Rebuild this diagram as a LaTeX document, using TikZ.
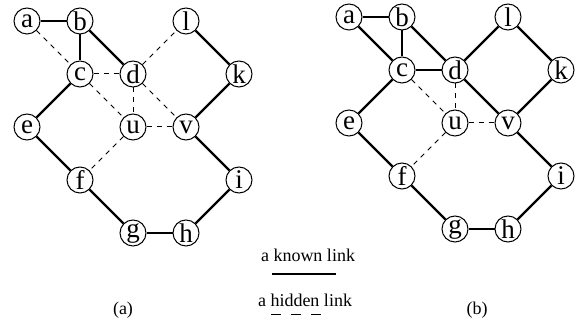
\documentclass[tikz,border=0pt]{standalone}
\usepackage{fontspec}
\setmainfont{Liberation Serif}
\usetikzlibrary{positioning}
\tikzset{router node/.style={circle,draw,line width=0.5pt,minimum size=13pt, inner sep=0pt,font=\fontsize{13.5}{15}\selectfont},}
\tikzset{known link/.style={line width=1.2pt},}
\tikzset{hidden link/.style={line width=0.5pt,dash pattern=on 2.5pt off 2.5pt},}
\tikzset{legend text/.style={inner sep=0pt,font=\fontsize{9}{11}\selectfont},}

\begin{document}
\begin{tikzpicture}[x=0.5pt,y=-0.5pt,node distance=26.5pt and 26.5pt,on grid]
     \useasboundingbox (0,0) rectangle (584,331);

     % (a)
     \node[router node] (a1) at (27,21) {a};
     \node[router node] (b1) [right = of a1] {b};
     \node[router node] (c1) [below = of b1] {c};
     \node[router node] (d1) [right = of c1] {d};
     \node[router node] (l1) [above right = of d1] {l};
     \node[router node] (k1) [below right = of l1] {k};
     \node[router node] (u1) [below = of d1] {u};
     \node[router node] (v1) [right = of u1] {v};
     \node[router node] (e1) [below left = of c1] {e};
     \node[router node] (f1) [below right = of e1] {f};
     \node[router node] (g1) [below right = of f1] {g};
     \node[router node] (h1) [right = of g1] {h};
     \node[router node] (i1) [above right = of h1] {i};

     \path[known link]
     (a1) edge (b1)
     (b1) edge (c1)
     (b1) edge (d1)
     (l1) edge (k1)
     (k1) edge (v1)
     (v1) edge (i1)
     (i1) edge (h1)
     (h1) edge (g1)
     (g1) edge (f1)
     (f1) edge (e1)
     (e1) edge (c1);
     \path[hidden link]
     (a1) edge (c1)
     (c1) edge (d1)
     (d1) edge (l1)
     (c1) edge (u1)
     (d1) edge (u1)
     (d1) edge (v1)
     (u1) edge (v1)
     (u1) edge (f1);

     % (b)
     \node[router node] (a2) at (349,17) {a};
     \node[router node] (b2) [right = of a2] {b};
     \node[router node] (c2) [below = of b2] {c};
     \node[router node] (d2) [right = of c2] {d};
     \node[router node] (l2) [above right = of d2] {l};
     \node[router node] (k2) [below right = of l2] {k};
     \node[router node] (u2) [below = of d2] {u};
     \node[router node] (v2) [right = of u2] {v};
     \node[router node] (e2) [below left = of c2] {e};
     \node[router node] (f2) [below right = of e2] {f};
     \node[router node] (g2) [below right = of f2] {g};
     \node[router node] (h2) [right = of g2] {h};
     \node[router node] (i2) [above right = of h2] {i};

     \path[known link]
     (a2) edge (b2)
     (a2) edge (c2)
     (b2) edge (c2)
     (b2) edge (d2)
     (c2) edge (d2)
     (d2) edge (l2)
     (l2) edge (k2)
     (k2) edge (v2)
     (d2) edge (v2)
     (v2) edge (i2)
     (i2) edge (h2)
     (h2) edge (g2)
     (g2) edge (f2)
     (f2) edge (e2)
     (e2) edge (c2);
     \path[hidden link]
     (c2) edge (u2)
     (d2) edge (u2)
     (u2) edge (v2)
     (u2) edge (f2);

     % legend
     \node[legend text] (known) at (308,255) {a known link};
     \node[legend text] (hidden) at (305,300) {a hidden link};
     \coordinate (known start) at (272,274);
     \coordinate (known end) at (336,274);
     \coordinate (hidden start) at (271,315);
     \coordinate (hidden end) at (322,315);
     \draw[known link] (known start) -- (known end);
     \draw[line width=0.5pt,dash pattern=on 5pt off 5pt] (hidden start) -- (hidden end);
     \node[legend text] (cap a) at (123,310) {(a)};
     \node[legend text] (cap b) at (477,310) {(b)};
  \end{tikzpicture}
\end{document}
